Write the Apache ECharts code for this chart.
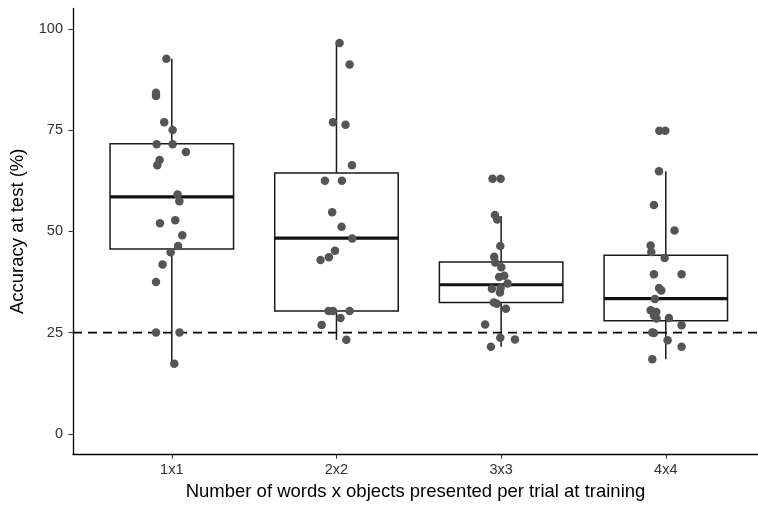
<!DOCTYPE html>
<html>
<head>
<meta charset="utf-8">
<script src="https://cdn.jsdelivr.net/npm/echarts@6/dist/echarts.min.js"></script>
<style>
html,body{margin:0;padding:0;background:#fff;}
#chart{width:758px;height:506px;}
</style>
</head>
<body>
<div id="chart"></div>
<script>
// ---- Data ----
const categories = ['1x1', '2x2', '3x3', '4x4'];
const yTicks = [0, 25, 50, 75, 100];
const chanceLevel = 25;

// Box statistics (lower whisker, Q1, median, Q3, upper whisker)
const boxMin    = [17.3, 23.2, 21.5, 18.4];
const boxQ1     = [45.6, 30.3, 32.4, 27.9];
const boxMedian = [58.5, 48.3, 36.8, 33.4];
const boxQ3     = [71.6, 64.4, 42.4, 44.1];
const boxMax    = [92.6, 96.5, 53.8, 64.8];

// Individual participants' accuracy (%) and their horizontal jitter (category units)
const acc1x1 = [92.6, 84.2, 83.4, 76.9, 75.0, 71.5, 71.5, 69.6, 67.6, 66.3, 59.1, 57.4, 52.7, 52.0, 49.0, 46.4, 44.8, 41.8, 37.5, 25.0, 25.0, 17.3];
const jit1x1 = [-0.033, -0.096, -0.096, -0.046, 0.005, -0.092, 0.005, 0.086, -0.074, -0.088, 0.035, 0.046, 0.021, -0.072, 0.064, 0.038, -0.007, -0.056, -0.096, -0.096, 0.047, 0.015];

const acc2x2 = [96.5, 91.2, 76.9, 76.3, 66.3, 62.5, 62.5, 54.7, 51.1, 48.2, 45.2, 43.6, 42.9, 30.3, 30.3, 30.3, 28.6, 26.9, 23.2];
const jit2x2 = [0.019, 0.080, -0.021, 0.055, 0.094, -0.070, 0.033, -0.026, 0.031, 0.096, -0.009, -0.046, -0.097, -0.048, -0.021, 0.080, 0.025, -0.090, 0.060];

const acc3x3 = [63.0, 63.0, 54.0, 52.9, 46.4, 43.7, 42.3, 41.1, 39.0, 38.7, 37.1, 36.0, 35.8, 34.9, 32.4, 32.1, 30.9, 27.0, 23.7, 23.3, 21.5];
const jit3x3 = [-0.052, -0.003, -0.038, -0.024, -0.005, -0.042, -0.036, 0.001, 0.019, -0.012, 0.039, -0.003, -0.056, -0.007, -0.044, -0.026, 0.029, -0.097, -0.005, 0.084, -0.062];

const acc4x4 = [74.8, 74.8, 64.8, 56.5, 50.2, 46.5, 44.9, 43.4, 39.4, 39.4, 36.0, 35.4, 33.3, 30.5, 30.1, 29.2, 28.5, 28.6, 26.8, 25.0, 24.9, 23.1, 21.5, 18.4];
const jit4x4 = [-0.039, -0.003, -0.041, -0.072, 0.053, -0.092, -0.088, -0.007, -0.072, 0.096, -0.041, -0.027, -0.066, -0.092, -0.058, -0.072, -0.056, 0.019, 0.096, -0.082, -0.072, 0.011, 0.096, -0.082];

// ---- Build series data ----
const groups = [[acc1x1, jit1x1], [acc2x2, jit2x2], [acc3x3, jit3x3], [acc4x4, jit4x4]];
const pointData = [];
groups.forEach(function (g, i) {
  g[0].forEach(function (v, k) { pointData.push([i + g[1][k], v]); });
});
const boxData = categories.map(function (c, i) {
  return [i, boxMin[i], boxQ1[i], boxMedian[i], boxQ3[i], boxMax[i]];
});

const xMin = -0.6, xMax = 3.56;
const font = "'Liberation Sans', Arial, Helvetica, sans-serif";

const chart = echarts.init(document.getElementById('chart'), null, {renderer: 'canvas'});
chart.setOption({
  animation: false,
  backgroundColor: '#ffffff',
  grid: {left: 72.5, right: 0, top: 8.5, bottom: 48.5, containLabel: false},
  xAxis: {
    type: 'value', min: xMin, max: xMax,
    name: 'Number of words x objects presented per trial at training',
    nameLocation: 'middle', nameGap: 25,
    nameTextStyle: {fontFamily: font, fontSize: 18.5, color: '#000'},
    axisLine: {show: true, onZero: false, lineStyle: {color: '#000', width: 1.3}},
    axisTick: {show: true, length: 4.5, lineStyle: {color: '#333', width: 1.1}, customValues: [0, 1, 2, 3]},
    axisLabel: {
      fontFamily: font, fontSize: 14.5, color: '#333', margin: 8,
      customValues: [0, 1, 2, 3],
      formatter: function (v) { return categories[Math.round(v)]; }
    },
    splitLine: {show: false}
  },
  yAxis: {
    type: 'value', min: -5, max: 105,
    name: 'Accuracy at test (%)',
    nameLocation: 'middle', nameGap: 46,
    nameTextStyle: {fontFamily: font, fontSize: 18.5, color: '#000'},
    axisLine: {show: true, onZero: false, lineStyle: {color: '#000', width: 1.3}},
    axisTick: {show: true, length: 4.5, lineStyle: {color: '#333', width: 1.1}, customValues: yTicks},
    axisLabel: {fontFamily: font, fontSize: 14.5, color: '#333', margin: 10, customValues: yTicks},
    splitLine: {show: false}
  },
  series: [
    {
      type: 'custom',
      z: 2,
      data: boxData,
      renderItem: function (params, api) {
        const x = api.value(0);
        const half = 0.375;
        const pMin = api.coord([x, api.value(1)]);
        const pQ1 = api.coord([x, api.value(2)]);
        const pMed = api.coord([x, api.value(3)]);
        const pQ3 = api.coord([x, api.value(4)]);
        const pMax = api.coord([x, api.value(5)]);
        const left = api.coord([x - half, api.value(3)])[0];
        const right = api.coord([x + half, api.value(3)])[0];
        const ls = {stroke: '#1a1a1a', lineWidth: 1.5};
        return {
          type: 'group',
          children: [
            {type: 'line', shape: {x1: pMax[0], y1: pMax[1], x2: pQ3[0], y2: pQ3[1]}, style: ls},
            {type: 'line', shape: {x1: pQ1[0], y1: pQ1[1], x2: pMin[0], y2: pMin[1]}, style: ls},
            {type: 'rect', shape: {x: left, y: pQ3[1], width: right - left, height: pQ1[1] - pQ3[1]},
              style: {fill: '#ffffff', stroke: '#1a1a1a', lineWidth: 1.5}},
            {type: 'line', shape: {x1: left, y1: pMed[1], x2: right, y2: pMed[1]},
              style: {stroke: '#111', lineWidth: 3.2}}
          ]
        };
      }
    },
    {
      type: 'line',
      z: 3,
      symbol: 'none',
      data: [[xMin, chanceLevel], [xMax, chanceLevel]],
      lineStyle: {color: '#000', width: 1.7, type: [9, 6]},
      silent: true
    },
    {
      type: 'scatter',
      z: 4,
      symbol: 'circle',
      symbolSize: 8.5,
      itemStyle: {color: '#555555', opacity: 1},
      data: pointData
    }
  ]
});
</script>
</body>
</html>
